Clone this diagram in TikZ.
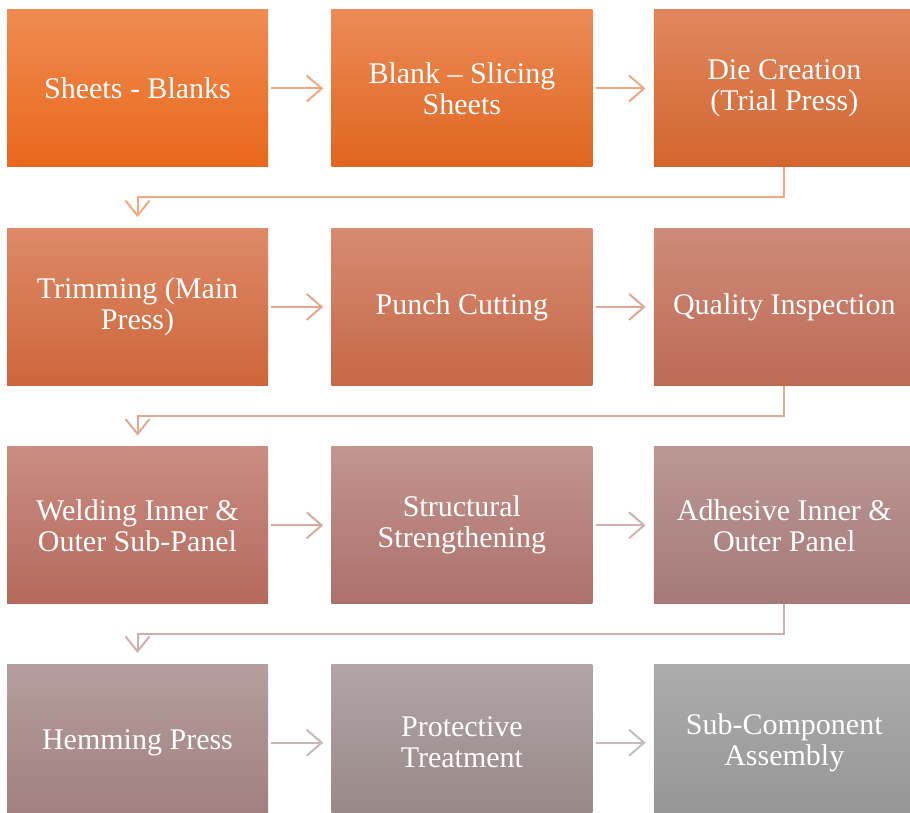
\documentclass[tikz,border=0pt]{standalone}
\usepackage{fontspec}
\setmainfont{Liberation Serif}
\usetikzlibrary{positioning, arrows.meta, calc}

% box colours, top and bottom of each gradient
\definecolor{ta}{HTML}{EF8B51}\definecolor{ba}{HTML}{E9671B}
\definecolor{tb}{HTML}{EB8A57}\definecolor{bb}{HTML}{E0661F}
\definecolor{tc}{HTML}{E0865E}\definecolor{bc}{HTML}{D3662F}
\definecolor{td}{HTML}{DD8A68}\definecolor{bd}{HTML}{CE653A}
\definecolor{te}{HTML}{D68B72}\definecolor{be}{HTML}{C66847}
\definecolor{tf}{HTML}{CE8B79}\definecolor{bf}{HTML}{BD6A53}
\definecolor{tg}{HTML}{C98D82}\definecolor{bg}{HTML}{B5695C}
\definecolor{th}{HTML}{C39490}\definecolor{bh}{HTML}{AD716A}
\definecolor{ti}{HTML}{BB9894}\definecolor{bi}{HTML}{A57977}
\definecolor{tj}{HTML}{B79E9E}\definecolor{bj}{HTML}{9F7E7E}
\definecolor{tk}{HTML}{B1A5A5}\definecolor{bk}{HTML}{988787}
\definecolor{tl}{HTML}{ACACAC}\definecolor{bl}{HTML}{959595}

\tikzset{proc/.style={minimum width=261pt, minimum height=157pt, inner sep=0pt, align=center, text=white, font=\fontsize{30}{31}\selectfont}}
\tikzset{flow/.style={-{Straight Barb[length=15pt,width=26pt]}, line width=2pt, shorten <=3pt, shorten >=8pt}}
\tikzset{turn/.style={-{Straight Barb[length=15pt,width=24pt]}, line width=2pt, shorten >=11pt}}

\begin{document}
\begin{tikzpicture}
		\clip (0,0) rectangle (910pt,-813pt);
		% Draw boxes
		\node[proc, top color=ta, bottom color=ba] (sheets) at (137.5pt,-88.5pt) {Sheets - Blanks};
		\node[proc, top color=tb, bottom color=bb, right=63pt of sheets] (blank) {Blank \textendash\ Slicing\\Sheets};
		\node[proc, top color=tc, bottom color=bc, right=61pt of blank] (die) {Die Creation\\(Trial Press)};
		\node[proc, top color=td, bottom color=bd, below=61pt of sheets] (trim) {Trimming (Main\\Press)};
		\node[proc, top color=te, bottom color=be, right=63pt of trim] (punch) {Punch Cutting};
		\node[proc, top color=tf, bottom color=bf, right=61pt of punch] (quality) {Quality Inspection};
		\node[proc, top color=tg, bottom color=bg, below=61pt of trim] (weld) {Welding Inner \&\\Outer Sub-Panel};
		\node[proc, top color=th, bottom color=bh, right=63pt of weld] (struct) {Structural\\Strengthening};
		\node[proc, top color=ti, bottom color=bi, right=61pt of struct] (adhes) {Adhesive Inner \&\\Outer Panel};
		\node[proc, top color=tj, bottom color=bj, below=60pt of weld] (hem) {Hemming Press};
		\node[proc, top color=tk, bottom color=bk, right=63pt of hem] (protect) {Protective\\Treatment};
		\node[proc, top color=tl, bottom color=bl, right=61pt of protect] (subcomp) {Sub-Component\\Assembly};
		% Draw arrows along each row
		\draw[flow, draw=ta!75!white] (sheets) -- (blank);
		\draw[flow, draw=tb!75!white] (blank) -- (die);
		\draw[flow, draw=td!75!white] (trim) -- (punch);
		\draw[flow, draw=te!75!white] (punch) -- (quality);
		\draw[flow, draw=tg!75!white] (weld) -- (struct);
		\draw[flow, draw=th!75!white] (struct) -- (adhes);
		\draw[flow, draw=tj!75!white] (hem) -- (protect);
		\draw[flow, draw=tk!75!white] (protect) -- (subcomp);
		% Draw the turns down to the next row
		\draw[turn, draw=ta!75!white] (die.south) -- ++(0,-30pt) -| (trim.north);
		\draw[turn, draw=te!75!white] (quality.south) -- ++(0,-30pt) -| (weld.north);
		\draw[turn, draw=ti!75!white] (adhes.south) -- ++(0,-30pt) -| (hem.north);
	\end{tikzpicture}
\end{document}
